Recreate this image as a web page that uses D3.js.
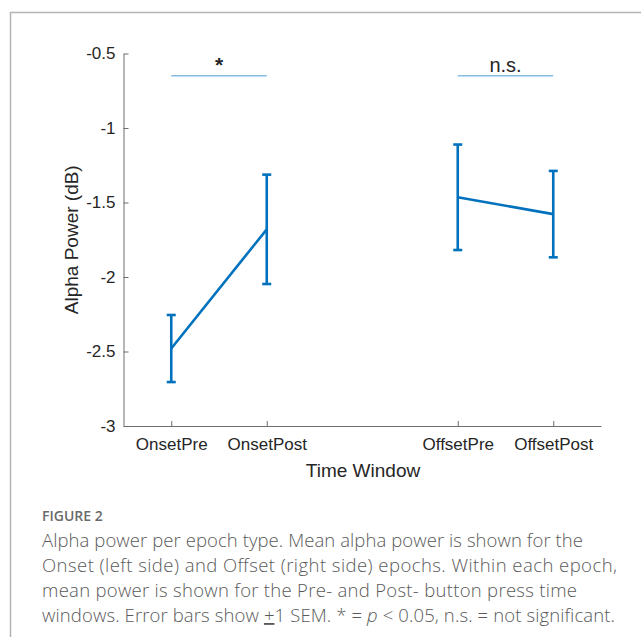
<!DOCTYPE html>
<html>
<head>
<meta charset="utf-8">
<script src="https://cdn.jsdelivr.net/npm/d3@7"></script>
<style>
  html, body { margin: 0; padding: 0; background: #fff; }
  svg { display: block; }
</style>
</head>
<body>
<svg id="chart" width="641" height="637"></svg>
<script>
// ---- data ----
const categories = ["OnsetPre", "OnsetPost", "OffsetPre", "OffsetPost"];
const xPositions = [1, 2, 4, 5];
const means = [-2.48, -1.68, -1.465, -1.578];
const sems = [0.225, 0.367, 0.354, 0.29];
const groups = [[0, 1], [2, 3]];
const sigLabels = ["*", "n.s."];
const sigLevel = -0.65;
const yTicks = [-3, -2.5, -2, -1.5, -1, -0.5];
const captionTitle = "FIGURE 2";

const svg = d3.select("#chart");
const blue = "#0072BD";
const axisColor = "#6e6e6e";
const textColor = "#262626";

// frame
svg.append("path")
  .attr("d", "M10.5,640 L10.5,12.5 L645,12.5")
  .attr("fill", "none").attr("stroke", "#b4b4b4").attr("stroke-width", 1.5);

const x = d3.scaleLinear().domain([0.5, 5.5]).range([123.5, 601]);
const y = d3.scaleLinear().domain([-3, -0.5]).range([426, 53.5]);

const font = "'Liberation Sans', Arial, Helvetica, sans-serif";

// y axis
const yAxis = svg.append("g").attr("transform", `translate(${x(0.5)},0)`)
  .call(d3.axisLeft(y).tickValues(yTicks).tickSizeInner(-5).tickSizeOuter(0).tickPadding(8)
    .tickFormat(d => String(d)));
yAxis.select(".domain").attr("stroke", axisColor);
yAxis.selectAll(".tick line").attr("stroke", axisColor);
yAxis.selectAll(".tick text").attr("fill", textColor).attr("font-family", font).attr("font-size", 17);

// x axis
const xAxis = svg.append("g").attr("transform", `translate(0,${y(-3)})`)
  .call(d3.axisBottom(x).tickValues(xPositions).tickSizeInner(-5).tickSizeOuter(0).tickPadding(12)
    .tickFormat((d, i) => categories[i]));
xAxis.select(".domain").attr("stroke", axisColor);
xAxis.selectAll(".tick line").attr("stroke", axisColor);
xAxis.selectAll(".tick text").attr("fill", textColor).attr("font-family", font).attr("font-size", 17);

// axis labels
svg.append("text")
  .attr("transform", `translate(78,${(y(-3) + y(-0.5)) / 2}) rotate(-90)`)
  .attr("text-anchor", "middle")
  .attr("font-family", font).attr("font-size", 19).attr("fill", textColor)
  .text("Alpha Power (dB)");
svg.append("text")
  .attr("x", 363).attr("y", 477)
  .attr("text-anchor", "middle")
  .attr("font-family", font).attr("font-size", 19).attr("fill", textColor)
  .text("Time Window");

// significance lines
groups.forEach((g, gi) => {
  const x1 = x(xPositions[g[0]]), x2 = x(xPositions[g[1]]);
  svg.append("line")
    .attr("x1", x1).attr("x2", x2).attr("y1", y(sigLevel)).attr("y2", y(sigLevel))
    .attr("stroke", "#86bde3").attr("stroke-width", 1.5);
  svg.append("text")
    .attr("x", (x1 + x2) / 2).attr("y", y(sigLevel) - 4)
    .attr("text-anchor", "middle")
    .attr("font-family", font).attr("font-size", gi === 0 ? 21 : 20)
    .attr("font-weight", gi === 0 ? "bold" : "normal")
    .attr("fill", textColor)
    .text(sigLabels[gi]);
});

// data lines
const line = d3.line().x(i => x(xPositions[i])).y(i => y(means[i]));
groups.forEach(g => {
  svg.append("path").attr("d", line(g))
    .attr("fill", "none").attr("stroke", blue).attr("stroke-width", 2.6);
});

// error bars
const capHalf = 4.5;
means.forEach((m, i) => {
  const cx = x(xPositions[i]);
  const top = y(m + sems[i]), bot = y(m - sems[i]);
  const gE = svg.append("g").attr("stroke", blue).attr("stroke-width", 2.6).attr("fill", "none");
  gE.append("line").attr("x1", cx).attr("x2", cx).attr("y1", top).attr("y2", bot);
  gE.append("line").attr("x1", cx - capHalf).attr("x2", cx + capHalf).attr("y1", top).attr("y2", top);
  gE.append("line").attr("x1", cx - capHalf).attr("x2", cx + capHalf).attr("y1", bot).attr("y2", bot);
});

// caption
const capFont = "'Open Sans', 'Noto Sans', sans-serif";
svg.append("text")
  .attr("x", 42).attr("y", 521)
  .attr("font-family", capFont).attr("font-size", 14).attr("font-weight", 600)
  .attr("fill", "#6a6a6a")
  .text(captionTitle);

const capLines = [
  { parts: [{ t: "Alpha power per epoch type. Mean alpha power is shown for the" }], w: 541 },
  { parts: [{ t: "Onset (left side) and Offset (right side) epochs. Within each epoch," }], w: 575 },
  { parts: [{ t: "mean power is shown for the Pre- and Post- button press time" }], w: 535 },
  { parts: [
      { t: "windows. Error bars show " },
      { t: "+", u: true },
      { t: "1 SEM. * = " },
      { t: "p", i: true },
      { t: " < 0.05, n.s. = not significant." }
    ], w: 573 }
];
capLines.forEach((ln, li) => {
  const tx = svg.append("text")
    .attr("x", 42).attr("y", 547 + li * 25)
    .attr("font-family", capFont).attr("font-size", 18.5).attr("font-weight", 300)
    .attr("fill", "#5a5a5a")
    .attr("textLength", ln.w).attr("lengthAdjust", "spacing");
  ln.parts.forEach(p => {
    const ts = tx.append("tspan").text(p.t);
    if (p.u) ts.attr("text-decoration", "underline");
    if (p.i) ts.attr("font-style", "italic");
  });
});
</script>
</body>
</html>
